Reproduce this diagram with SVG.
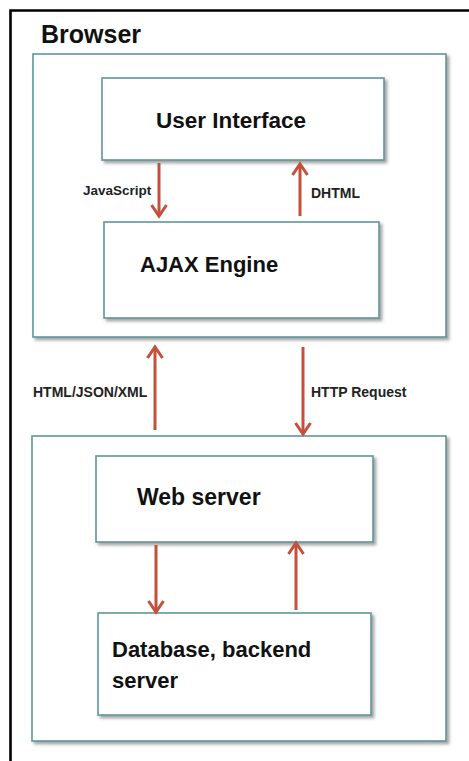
<svg xmlns="http://www.w3.org/2000/svg" width="469" height="761" viewBox="0 0 469 761">
<defs>
<filter id="sh" x="-5%" y="-5%" width="115%" height="115%">
<feDropShadow dx="2.5" dy="2.5" stdDeviation="1.5" flood-color="#555" flood-opacity="0.55"/>
</filter>
<style>
.box{fill:#fff;stroke:#5f979b;stroke-width:1.6;filter:url(#sh)}
.big{font-family:"Liberation Sans",Arial,sans-serif;font-weight:bold;font-size:22px;fill:#111}
.lbl{font-family:"Liberation Sans",Arial,sans-serif;font-weight:bold;font-size:14px;fill:#222}
.ar{stroke:#c4503b;stroke-width:3;fill:none;stroke-linecap:butt}
.hd{stroke:#c4503b;stroke-width:3;fill:none;stroke-linejoin:miter}
</style>
</defs>
<rect width="469" height="761" fill="#fff"/>
<path d="M10.5 761 V10.5 H469" fill="none" stroke="#000" stroke-width="2.6"/>
<text x="41" y="43" class="big" style="font-size:25px">Browser</text>
<g id="browser"><rect class="box" x="33" y="54" width="413" height="283"/></g>
<g id="server-side"><rect class="box" x="32" y="436" width="414" height="305"/></g>
<g id="ui"><rect class="box" x="102" y="78" width="282" height="82"/><text x="156" y="128" class="big" style="font-size:22.5px">User Interface</text></g>
<g id="ajax"><rect class="box" x="104" y="222" width="275" height="96"/><text x="140" y="272" class="big">AJAX Engine</text></g>
<g id="web"><rect class="box" x="96" y="456" width="277" height="86"/><text x="137" y="505" class="big" style="font-size:23px">Web server</text></g>
<g id="db"><rect class="box" x="98" y="613" width="273" height="102"/><text x="112" y="657" class="big">Database, backend</text><text x="112" y="688" class="big">server</text></g>
<g id="connectors">
<line class="ar" x1="159" y1="163" x2="159" y2="215"/><path class="hd" d="M151.5 205 L159 216 L166.5 205"/>
<line class="ar" x1="300" y1="216" x2="300" y2="165"/><path class="hd" d="M292.5 175 L300 164 L307.5 175"/>
<line class="ar" x1="155" y1="430" x2="155" y2="348"/><path class="hd" d="M147.5 358 L155 347 L162.5 358"/>
<line class="ar" x1="303" y1="347" x2="303" y2="432"/><path class="hd" d="M295.5 423 L303 434 L310.5 423"/>
<line class="ar" x1="156" y1="545" x2="156" y2="610"/><path class="hd" d="M148.5 601 L156 612 L163.5 601"/>
<line class="ar" x1="296" y1="610" x2="296" y2="545"/><path class="hd" d="M288.5 554 L296 543 L303.5 554"/>
</g>
<text x="83" y="195" class="lbl" style="font-size:13.5px">JavaScript</text>
<text x="311" y="198" class="lbl">DHTML</text>
<text x="33" y="397" class="lbl">HTML/JSON/XML</text>
<text x="311" y="397" class="lbl">HTTP Request</text>
</svg>
